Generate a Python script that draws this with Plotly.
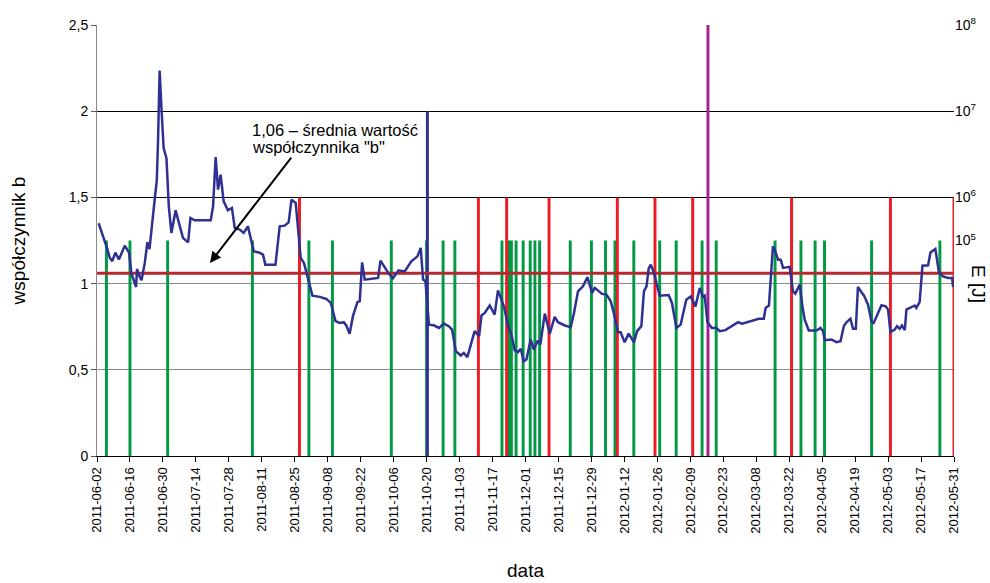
import pandas as pd
import plotly.graph_objects as go

START = pd.Timestamp("2011-06-02")

# coefficient b: days since 2011-06-02 and values
b_days = [0.7, 2.5, 4.4, 5.4, 6.5, 7.8, 9.3, 11.8, 13.6, 14.6, 15.6, 16.6, 17.0, 17.8, 18.9,
          20.3, 21.4, 22.3, 24.2, 25.4, 25.9, 26.6, 27.4, 28.3, 29.5, 30.5, 31.6, 33.4, 34.8,
          36.5, 38.7, 39.7, 41.5, 48.3, 49.3, 50.4, 51.4, 52.5, 53.8, 55.6, 57.3, 58.5, 60.6,
          62.3, 64.1, 66.6, 68.8, 70.5, 71.5, 75.8, 77.6, 79.7, 81.4, 82.6, 84.4, 86.5, 87.9,
          89.6, 91.5, 94.6, 97.4, 99.3, 101.3, 103.1, 104.8, 105.9, 107.3, 108.7, 110.6, 111.6,
          112.6, 113.7, 119.4, 120.4, 122.2, 123.9, 125.7, 128.1, 130.7, 133.5, 136.1, 137.5,
          138.5, 139.5, 141.0, 143.0, 145.3, 147.3, 149.4, 150.8, 152.4, 154.5, 155.8, 157.3,
          159.0, 160.4, 162.3, 163.3, 164.7, 166.8, 168.9, 170.3, 172.9, 174.6, 176.0, 177.4,
          178.8, 180.0, 181.2, 182.4, 184.2, 185.5, 187.3, 188.3, 190.2, 192.3, 194.4, 195.8,
          198.7, 201.2, 202.6, 204.3, 206.4, 208.3, 210.3, 211.4, 214.5, 216.4, 218.2, 219.5,
          221.3, 222.4, 224.1, 225.8, 228.1, 229.4, 231.2, 232.3, 233.4, 234.3, 235.2, 236.6,
          237.6, 239.0, 242.8, 244.2, 246.1, 247.9, 250.3, 252.2, 254.2, 256.0, 257.4, 258.1,
          259.3, 261.2, 263.1, 264.5, 266.9, 269.7, 272.3, 274.0, 278.0, 281.1, 283.2, 284.0,
          285.4, 287.1, 288.1, 289.3, 290.4, 291.4, 294.2, 295.6, 296.6, 298.5, 299.6, 300.6,
          302.3, 305.6, 307.3, 308.4, 309.1, 311.9, 314.1, 315.8, 317.2, 318.3, 320.0, 321.1,
          322.3, 323.2, 324.7, 325.8, 327.5, 328.9, 329.9, 331.5, 333.2, 335.0, 336.0, 337.0,
          338.8, 339.8, 340.9, 341.9, 343.1, 343.8, 345.9, 347.3, 348.0, 349.4, 350.6, 353.0,
          354.0, 356.1, 357.6, 359.3, 361.5, 363.2, 363.6, 364.0]
b_values = [1.35, 1.28, 1.20, 1.15, 1.13, 1.18, 1.14, 1.22, 1.18, 1.06, 1.02, 0.98, 1.085, 1.05, 1.02,
            1.12, 1.24, 1.20, 1.45, 1.60, 1.815, 2.236, 2.01, 1.786, 1.728, 1.448, 1.294, 1.425, 1.352,
            1.265, 1.239, 1.381, 1.367, 1.367, 1.448, 1.734, 1.545, 1.632, 1.477, 1.425, 1.439, 1.323, 1.313,
            1.294, 1.332, 1.187, 1.181, 1.168, 1.11, 1.11, 1.332, 1.336, 1.355, 1.487, 1.468, 1.149, 1.12,
            1.023, 0.93, 0.923, 0.911, 0.888, 0.782, 0.772, 0.776, 0.757, 0.709, 0.811, 0.892, 0.898,
            1.123, 1.023, 1.033, 1.133, 1.097, 1.058, 1.031, 1.077, 1.071, 1.129, 1.158, 1.207,
            1.023, 1.013, 0.762, 0.758, 0.743, 0.768, 0.753, 0.733, 0.608, 0.583, 0.598, 0.573,
            0.656, 0.724, 0.695, 0.815, 0.83, 0.873, 0.82, 0.961, 0.865, 0.753, 0.705, 0.614,
            0.602, 0.622, 0.55, 0.56, 0.676, 0.618, 0.67, 0.647, 0.826, 0.709, 0.807, 0.776,
            0.757, 0.747, 0.83, 0.955, 0.984, 1.037, 0.946, 0.975, 0.94, 0.936, 0.897, 0.83,
            0.718, 0.718, 0.66, 0.71, 0.66, 0.724, 0.753, 0.955, 0.984, 1.085, 1.11, 1.062,
            1.004, 0.93, 0.934, 0.888, 0.743, 0.762, 0.907, 0.926, 0.868, 0.975, 0.923, 0.93,
            0.776, 0.743, 0.743, 0.724, 0.73, 0.753, 0.776, 0.768, 0.784, 0.796, 0.796, 0.859,
            0.873, 1.216, 1.187, 1.139, 1.139, 1.091, 1.097, 0.955, 0.942, 0.994, 0.869, 0.791,
            0.728, 0.728, 0.743, 0.724, 0.672, 0.676, 0.66, 0.666, 0.753, 0.776, 0.796, 0.738,
            0.738, 0.981, 0.95, 0.93, 0.878, 0.782, 0.772, 0.826, 0.874, 0.868, 0.849, 0.718,
            0.733, 0.753, 0.738, 0.757, 0.73, 0.849, 0.865, 0.873, 0.859, 0.892, 1.104, 1.106,
            1.181, 1.201, 1.065, 1.042, 1.033, 1.033, 0.981, 0.994]

b_mean = 1.06

# seismic events by energy class
events_1e5 = ["2011-06-06", "2011-06-16", "2011-07-02", "2011-08-07", "2011-08-31", "2011-09-10",
              "2011-10-05", "2011-10-20", "2011-10-27", "2011-11-01", "2011-11-21", "2011-11-24",
              "2011-11-25", "2011-11-27", "2011-11-30", "2011-12-03", "2011-12-05", "2011-12-07",
              "2011-12-20", "2011-12-29", "2012-01-04", "2012-01-08", "2012-01-16", "2012-01-27",
              "2012-02-03", "2012-02-14", "2012-02-20", "2012-03-16", "2012-03-27", "2012-04-02",
              "2012-04-06", "2012-04-26", "2012-05-25"]
events_1e6 = ["2011-08-27", "2011-11-11", "2011-11-23", "2011-12-11", "2012-01-09", "2012-01-25",
              "2012-02-10", "2012-03-23", "2012-05-04", "2012-05-31"]
events_1e7 = ["2011-10-20 08:00"]
events_1e8 = ["2012-02-16 12:00"]

# right-axis energy labels and their position on the b scale
energy_ticks = [1.25, 1.5, 2.0, 2.5]
energy_labels = ["10<sup>5</sup>", "10<sup>6</sup>", "10<sup>7</sup>", "10<sup>8</sup>"]

x_ticks = pd.date_range("2011-06-02", "2012-05-31", freq="14D")
x_ticklabels = [d.strftime("%Y-%m-%d") for d in x_ticks]
y_ticks = [0, 0.5, 1, 1.5, 2, 2.5]

b_dates = [START + pd.Timedelta(days=d) for d in b_days]
DAY_MS = 86400000
FONT = "Liberation Sans, Arial, sans-serif"
END = pd.Timestamp("2012-05-31")

fig = go.Figure()

def add_events(dates, height, color):
    fig.add_trace(go.Bar(x=dates, y=[height] * len(dates), width=1.25 * DAY_MS,
                         marker=dict(color=color, line=dict(width=0)), showlegend=False,
                         yaxis="y", hoverinfo="x", cliponaxis=False))

add_events(events_1e5, energy_ticks[0], "#009944")
add_events(events_1e6, energy_ticks[1], "#ed1c24")
add_events(events_1e7, energy_ticks[2], "#2e3192")
add_events(events_1e8, energy_ticks[3], "#a3238e")

fig.add_trace(go.Scatter(x=[START, END], y=[b_mean, b_mean],
                         mode="lines", line=dict(color="#b5292f", width=3), showlegend=False))
fig.add_trace(go.Scatter(x=b_dates, y=b_values, mode="lines",
                         line=dict(color="#2e3192", width=2.5), showlegend=False))
# invisible traces to activate the overlay axes
fig.add_trace(go.Scatter(x=[START], y=[0], yaxis="y2", mode="markers",
                         marker=dict(opacity=0), showlegend=False, hoverinfo="skip"))
fig.add_trace(go.Scatter(x=[START], y=[0], yaxis="y3", mode="markers",
                         marker=dict(opacity=0), showlegend=False, hoverinfo="skip"))

fig.update_layout(
    width=990, height=583,
    margin=dict(l=97, r=36, t=25, b=127, autoexpand=False),
    plot_bgcolor="white", paper_bgcolor="white",
    separators=", ",
    barmode="overlay",
    font=dict(family=FONT, color="black"),
    xaxis=dict(type="date", range=[START, END], automargin=False,
               tickvals=x_ticks, ticktext=x_ticklabels, tickangle=-90,
               tickfont=dict(size=13), ticks="outside", ticklen=5, tickcolor="black",
               showline=True, linecolor="black", linewidth=1, showgrid=False, zeroline=False,
               title=dict(text="data", font=dict(size=19), standoff=30)),
    yaxis=dict(range=[0, 2.5], tickvals=y_ticks, tickfont=dict(size=14), automargin=False,
               ticks="outside", ticklen=5, tickcolor="#555",
               showline=True, linecolor="#888", linewidth=1,
               showgrid=True, gridcolor="#8a8a8a", gridwidth=1, zeroline=False,
               title=dict(text="współczynnik b", font=dict(size=19), standoff=38)),
    yaxis2=dict(range=[0, 2.5], overlaying="y", side="right", tickvals=energy_ticks,
                ticktext=energy_labels, tickfont=dict(size=14), ticks="", showgrid=False,
                showline=False, zeroline=False, automargin=False),
    yaxis3=dict(range=[0, 2.5], overlaying="y", side="left", tickvals=[1.5, 2.0],
                showticklabels=False, ticks="", showgrid=True, gridcolor="black",
                gridwidth=1, zeroline=False, showline=False, automargin=False),
)

fig.add_annotation(text="E [J]", xref="paper", yref="paper", x=1.0 + 12 / 857, y=0.40,
                   xanchor="left", yanchor="middle", textangle=90, showarrow=False,
                   font=dict(size=19))
note_lines = ["1,06 – średnia wartość", "współczynnika \"b\""]
for i, line in enumerate(note_lines):
    fig.add_annotation(text=line, xref="paper", yref="paper",
                       x=(250 - 97) / 857, y=(456 - (130 + 17 * i)) / 431,
                       xanchor="left", yanchor="middle", align="left", showarrow=False,
                       font=dict(size=16.5))
fig.add_annotation(x=START + pd.Timedelta(days=48), y=1.12,
                   ax=START + pd.Timedelta(days=83), ay=1.74, axref="x", ayref="y",
                   xref="x", yref="y", text="", showarrow=True, arrowhead=2,
                   arrowsize=1.1, arrowwidth=2, arrowcolor="black")

fig.write_html("out.html", config={"displayModeBar": False},
               post_script="document.documentElement.style.margin='0';"
                           "document.body.style.margin='0';"
                           "document.body.style.overflow='hidden';")
